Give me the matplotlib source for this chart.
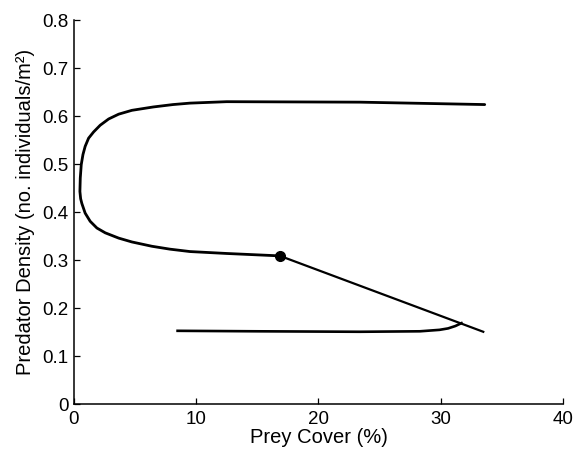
import numpy as np
import matplotlib
matplotlib.use("Agg")
import matplotlib.pyplot as plt

plt.rcParams['font.family'] = ['Liberation Sans', 'DejaVu Sans']

# upper loop: from right end of the top branch, round the bend, down to the dot
loop_x = [33.6, 23.4, 12.5, 9.49, 8.1, 6.49, 4.74, 3.66, 2.84, 2.15, 1.61,
          1.20, 0.92, 0.74, 0.60, 0.52, 0.49, 0.55, 0.65, 0.92, 1.33, 1.88,
          2.56, 3.66, 4.74, 6.38, 7.85, 9.49, 12.5, 16.85]
loop_y = [0.624, 0.629, 0.630, 0.627, 0.624, 0.619, 0.612, 0.604, 0.594, 0.581,
          0.567, 0.554, 0.537, 0.520, 0.499, 0.471, 0.443, 0.428, 0.418, 0.398,
          0.381, 0.367, 0.357, 0.346, 0.338, 0.329, 0.323, 0.318, 0.314, 0.309]

# straight part from the dot down to the right
diag_x = [16.85, 33.48]
diag_y = [0.309, 0.151]

# lower branch with the hook at its right end
low_x = [8.48, 15.0, 23.4, 28.3, 29.9, 30.6, 31.2, 31.7]
low_y = [0.153, 0.152, 0.151, 0.152, 0.155, 0.158, 0.163, 0.169]

dot_x = [16.85]
dot_y = [0.309]

xticks = [0, 10, 20, 30, 40]
yticks = [0, 0.1, 0.2, 0.3, 0.4, 0.5, 0.6, 0.7, 0.8]
ytick_labels = ['0', '0.1', '0.2', '0.3', '0.4', '0.5', '0.6', '0.7', '0.8']

fig = plt.figure(figsize=(5.73, 4.55), dpi=100)
ax = fig.add_axes([0.129, 0.1114, 0.8535, 0.8446])

ax.plot(loop_x, loop_y, color='black', lw=2.0, solid_capstyle='round', solid_joinstyle='round')
ax.plot(diag_x, diag_y, color='black', lw=1.6)
ax.plot(low_x, low_y, color='black', lw=1.9, solid_joinstyle='round')
ax.plot(dot_x, dot_y, 'o', color='black', ms=7)

ax.set_xlim(0, 40)
ax.set_ylim(0, 0.8)
ax.set_xticks(xticks)
ax.set_xticklabels([str(t) for t in xticks])
ax.set_yticks(yticks)
ax.set_yticklabels(ytick_labels)
ax.tick_params(direction='in', length=4, width=0.9, labelsize=13.5)
ax.tick_params(axis='x', pad=5)
ax.tick_params(axis='y', pad=4)

ax.spines['top'].set_visible(False)
ax.spines['right'].set_visible(False)
for s in ['left', 'bottom']:
    ax.spines[s].set_linewidth(1.1)

ax.set_xlabel('Prey Cover (%)', fontsize=14.5, labelpad=0)
ax.set_ylabel('Predator Density (no. individuals/m²)', fontsize=14.5, labelpad=5)

fig.savefig('out.png', dpi=100)
